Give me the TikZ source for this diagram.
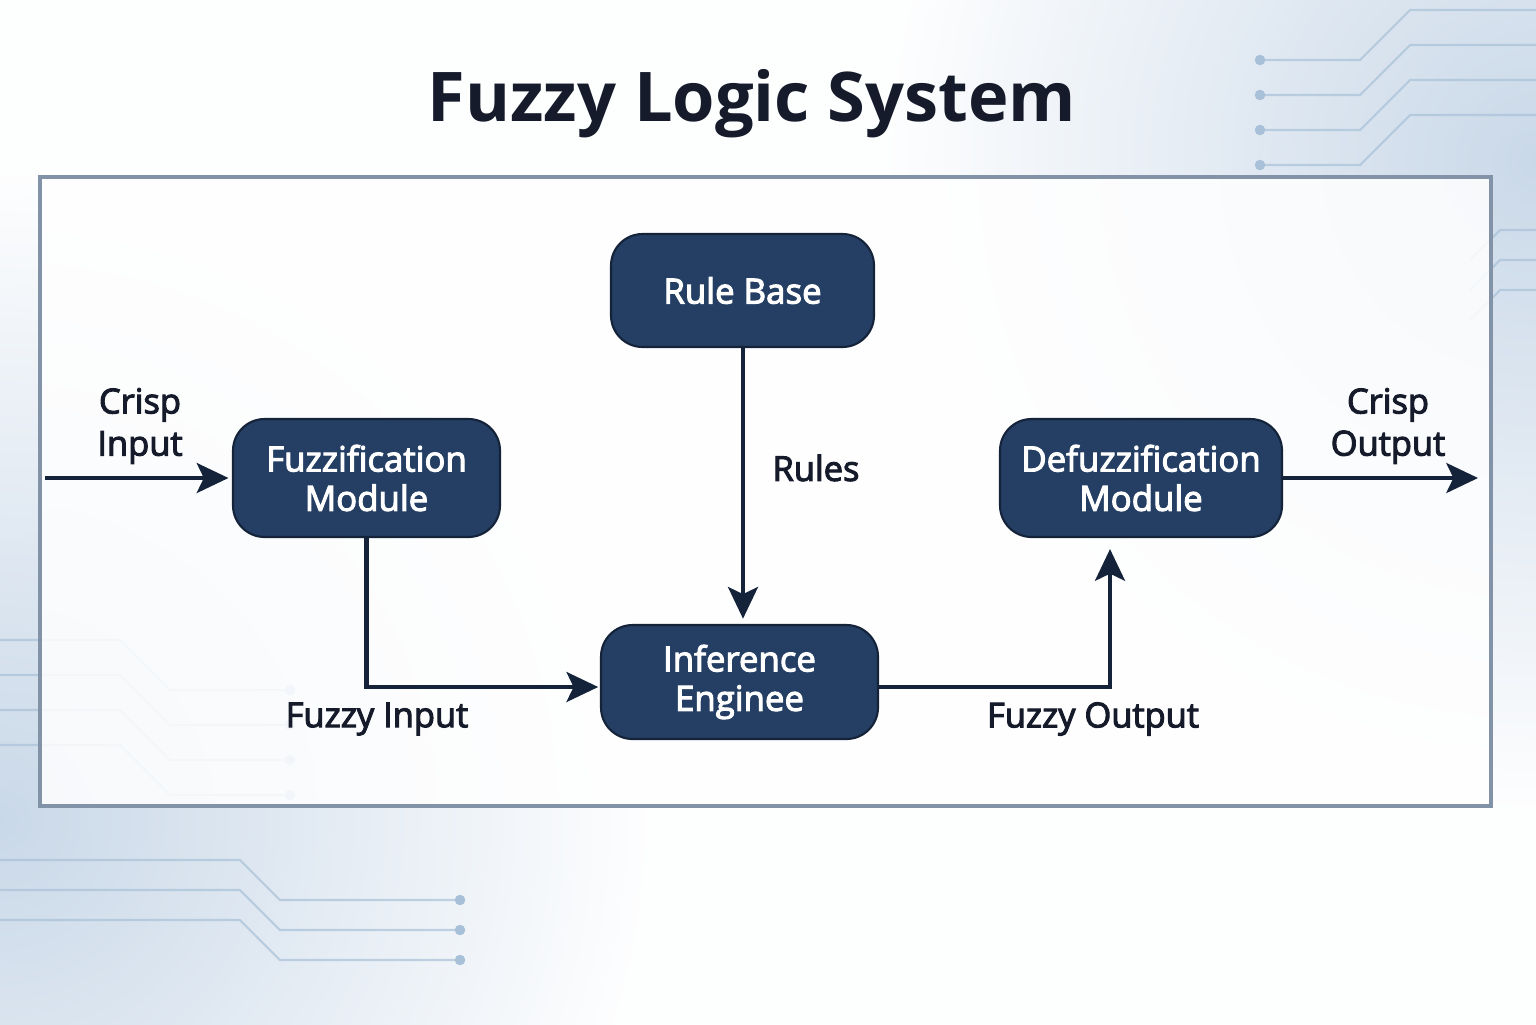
\documentclass[tikz,border=0pt]{standalone}
\usepackage{fontspec}
\setmainfont{Open Sans}
\newfontfamily\medfont[FakeBold=3]{Open Sans}
\usepackage{tikz}
\usetikzlibrary{arrows.meta,positioning,calc}

\definecolor{boxblue}{HTML}{243F63}
\definecolor{linenavy}{HTML}{14233A}
\definecolor{framegray}{HTML}{8393A7}
\definecolor{bgblue}{HTML}{C9D8E8}
\definecolor{tracecol}{HTML}{A9C1D8}
\definecolor{titlecol}{HTML}{151B2A}

\tikzset{
  module/.style={rectangle, rounded corners=9pt, draw=linenavy, line width=0.6pt,
    fill=boxblue, text=white, align=center, font=\medfont\fontsize{9.9}{11.2}\selectfont},
  flow/.style={->, draw=linenavy, line width=1.2pt},
  lbl/.style={align=center, text=titlecol, font=\medfont\fontsize{9.8}{12}\selectfont},
  trace/.style={draw=tracecol, line width=0.6pt, opacity=0.7}
}

\begin{document}
\begin{tikzpicture}[>={Stealth[length=9pt,width=8.5pt,inset=2pt]}, x=1cm, y=1cm]
% background, margins included
\fill[white!97!bgblue] (0,0) rectangle (15.36,-10.24);
\useasboundingbox (0,0) rectangle (15.36,-10.24);
\begin{scope}
\clip (0,0) rectangle (15.36,-10.24);
\shade[inner color=bgblue, outer color=white!97!bgblue] (15.36,-1.6) circle (6.5cm);
\shade[inner color=bgblue, outer color=white!97!bgblue] (0,-8.2) circle (6.5cm);
\end{scope}
% faint circuit traces in the corners
\foreach \dy in {0,0.35,0.7,1.05} {
  \draw[trace] (12.6,-0.6-\dy) -- (13.6,-0.6-\dy) -- (14.1,-0.1-\dy) -- (15.36,-0.1-\dy);
  \fill[tracecol] (12.6,-0.6-\dy) circle (1.5pt);
  \draw[trace] (0,-6.4-\dy) -- (1.2,-6.4-\dy) -- (1.7,-6.9-\dy) -- (2.9,-6.9-\dy);
  \fill[tracecol] (2.9,-6.9-\dy) circle (1.5pt);
}
\foreach \dy in {0,0.3,0.6} {
  \draw[trace] (0,-8.6-\dy) -- (2.4,-8.6-\dy) -- (2.8,-9.0-\dy) -- (4.6,-9.0-\dy);
  \fill[tracecol] (4.6,-9.0-\dy) circle (1.5pt);
  \draw[trace] (15.36,-2.3-\dy) -- (15.0,-2.3-\dy) -- (14.7,-2.6-\dy);
}

% title
\node[font=\fontsize{19.5}{23}\selectfont\bfseries, text=titlecol] (title) at (7.52,-1.04) {Fuzzy Logic System};

% outer frame
\draw[draw=framegray, line width=1pt, fill=white, fill opacity=0.85] (0.40,-1.77) rectangle (14.91,-8.06);

% modules
\node[module, minimum width=2.63cm, minimum height=1.13cm] (rule)   at (7.425,-2.905) {Rule Base};
\node[module, minimum width=2.67cm, minimum height=1.18cm] (fuzz)   at (3.665,-4.78) {Fuzzification\\Module};
\node[module, minimum width=2.82cm, minimum height=1.18cm] (defuzz) at (11.41,-4.78) {Defuzzification\\Module};
\node[module, minimum width=2.77cm, minimum height=1.14cm] (infer)  at (7.395,-6.82) {Inference\\Enginee};

% free ends
\coordinate (cin)  at (0.45,-4.78);
\coordinate (cout) at (14.78,-4.78);

% connectors
\draw[flow, shorten >=1pt] (cin) -- (fuzz.west);
\draw[flow, shorten >=0.5pt] (fuzz.south) |- ($(infer.west)+(0,-0.05)$);
\draw[flow, shorten >=1.5pt] ($(rule.south)+(0.005,0)$) -- ($(rule.south |- infer.north)+(0.005,0)$);
\draw[flow, shorten >=0.11cm] ($(infer.east)+(0,-0.05)$) -| ($(defuzz.south)+(-0.31,0)$);
\draw[flow] (defuzz.east) -- (cout);

% labels
\node[lbl] (lin)   at (1.40,-4.26) {Crisp\\Input};
\node[lbl] (lout)  at (13.88,-4.26) {Crisp\\Output};
\node[lbl] (lrule) at (8.16,-4.68) {Rules};
\node[lbl] (lfin)  at (3.77,-7.19) {Fuzzy Input};
\node[lbl] (lfout) at (10.93,-7.19) {Fuzzy Output};
\end{tikzpicture}
\end{document}
